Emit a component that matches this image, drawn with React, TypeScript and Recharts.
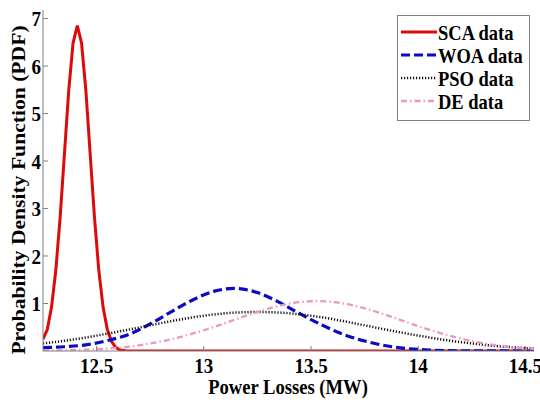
import React from "react";
import { LineChart, Line, XAxis, YAxis, Legend } from "recharts";

// ---- data ----
const scaX = [12.25, 12.27, 12.29, 12.31, 12.33, 12.35, 12.37, 12.39, 12.41, 12.43, 12.45, 12.47, 12.49, 12.51, 12.53, 12.55, 12.57, 12.59, 12.61, 12.64, 13.0, 13.5, 14.0, 14.54];
const scaY = [0.25, 0.45, 0.93, 1.71, 2.82, 4.15, 5.48, 6.48, 6.85, 6.48, 5.48, 4.15, 2.82, 1.71, 0.93, 0.45, 0.2, 0.07, 0.02, 0, 0, 0, 0, 0];

const woaX = [12.25, 12.35, 12.45, 12.55, 12.65, 12.75, 12.85, 12.95, 13.05, 13.14, 13.25, 13.35, 13.45, 13.55, 13.65, 13.75, 13.85, 13.95, 14.05, 14.2, 14.54];
const woaY = [0.07, 0.09, 0.13, 0.22, 0.35, 0.57, 0.83, 1.08, 1.26, 1.32, 1.23, 1.03, 0.78, 0.55, 0.35, 0.21, 0.11, 0.05, 0.02, 0.005, 0];

const psoX = [12.25, 12.35, 12.45, 12.55, 12.65, 12.75, 12.85, 12.95, 13.05, 13.15, 13.25, 13.35, 13.45, 13.55, 13.65, 13.75, 13.85, 13.95, 14.05, 14.15, 14.25, 14.35, 14.45, 14.54];
const psoY = [0.16, 0.215, 0.285, 0.365, 0.45, 0.54, 0.63, 0.71, 0.77, 0.81, 0.82, 0.81, 0.77, 0.71, 0.63, 0.54, 0.45, 0.365, 0.285, 0.215, 0.16, 0.11, 0.076, 0.05];

const deX = [12.25, 12.35, 12.45, 12.55, 12.65, 12.75, 12.85, 12.95, 13.05, 13.15, 13.25, 13.35, 13.45, 13.53, 13.65, 13.75, 13.85, 13.95, 14.05, 14.15, 14.25, 14.35, 14.45, 14.54];
const deY = [0.01, 0.015, 0.03, 0.05, 0.09, 0.16, 0.25, 0.37, 0.51, 0.67, 0.82, 0.95, 1.03, 1.05, 1.0, 0.9, 0.76, 0.6, 0.45, 0.32, 0.21, 0.13, 0.075, 0.045];

const xTicks = [12.5, 13, 13.5, 14, 14.5];
const yTicks = [1, 2, 3, 4, 5, 6, 7];
const xDomain = [12.25, 14.54];
const yDomain = [0, 7.18];

const seriesNames = ["SCA data", "WOA data", "PSO data", "DE data"];
const xTitle = "Power Losses (MW)";
const yTitle = "Probability Density Function (PDF)";

// ---- styles ----
const FONT = "Liberation Serif, DejaVu Serif, serif";
const AXIS = "#808080";
const SY = 1.15; // vertical stretch of the reference's text
const textCss = { fontFamily: FONT, fontWeight: 700 };

const toPoints = (xs: number[], ys: number[]) => xs.map((x, i) => ({ x, y: ys[i] }));

const series = [
  { name: seriesNames[0], data: toPoints(scaX, scaY), color: "#dc0a0a", width: 3, dash: undefined as string | undefined, type: "linear" as const },
  { name: seriesNames[1], data: toPoints(woaX, woaY), color: "#0a0ac8", width: 3.2, dash: "9 4", type: "monotone" as const },
  { name: seriesNames[2], data: toPoints(psoX, psoY), color: "#111111", width: 2.5, dash: "1.2 1.8", type: "monotone" as const },
  { name: seriesNames[3], data: toPoints(deX, deY), color: "#ec98c2", width: 2.3, dash: "6 3 1.5 3", type: "monotone" as const },
];

const XTick = (props: any) => {
  const { x, y, payload } = props;
  return (
    <g transform={`translate(${x},${y}) scale(1,${SY})`}>
      <text x={0} y={0} dy="0.71em" textAnchor="middle" style={textCss} fontSize={19} fill="#000">
        {payload.value}
      </text>
    </g>
  );
};

const YTick = (props: any) => {
  const { x, y, payload } = props;
  return (
    <g transform={`translate(${x},${y}) scale(1,${SY})`}>
      <text x={0} y={0} dy="0.355em" textAnchor="end" style={textCss} fontSize={19} fill="#000">
        {payload.value}
      </text>
    </g>
  );
};

const LegendBox = () => (
  <svg width={134} height={107} style={{ display: "block" }}>
    <rect x={0.5} y={0.5} width={132} height={105} fill="#fff" stroke={AXIS} strokeWidth={1} />
    {series.map((s, i) => {
      const cy = 17 + i * 23;
      return (
        <g key={s.name}>
          <line x1={4} x2={40} y1={cy} y2={cy} stroke={s.color} strokeWidth={s.width} strokeDasharray={s.dash} />
          <g transform={`translate(41,${cy}) scale(1,${SY})`}>
            <text x={0} y={0} dy="0.355em" style={textCss} fontSize={18.5} fill="#000">
              {s.name}
            </text>
          </g>
        </g>
      );
    })}
  </svg>
);

export default function App() {
  return (
    <div style={{ position: "absolute", left: 0, top: 0, width: 540, height: 400, background: "#fff", fontFamily: FONT }}>
      <LineChart width={540} height={400} margin={{ top: 10, right: 6, bottom: 0, left: 0 }}>
        <XAxis
          xAxisId="b"
          dataKey="x"
          type="number"
          domain={xDomain}
          ticks={xTicks}
          allowDataOverflow
          height={49}
          stroke={AXIS}
          tickSize={-5}
          tickMargin={11}
          tick={<XTick />}
          label={{
            content: () => (
              <g transform={`translate(288,394) scale(1,${SY})`}>
                <text x={0} y={0} textAnchor="middle" style={textCss} fontSize={18.6} fill="#000">
                  {xTitle}
                </text>
              </g>
            ),
          }}
        />
        <XAxis
          xAxisId="t"
          orientation="top"
          dataKey="x"
          type="number"
          domain={xDomain}
          ticks={xTicks}
          allowDataOverflow
          height={0}
          stroke={AXIS}
          tickSize={-5}
          tick={false}
        />
        <YAxis
          yAxisId="l"
          type="number"
          domain={yDomain}
          ticks={yTicks}
          allowDataOverflow
          width={43}
          stroke={AXIS}
          tickSize={-5}
          tickMargin={7}
          tick={<YTick />}
          label={{
            content: () => (
              <g transform={`translate(25,190) scale(1,${SY}) rotate(-90)`}>
                <text x={0} y={0} textAnchor="middle" style={textCss} fontSize={18.8} fill="#000">
                  {yTitle}
                </text>
              </g>
            ),
          }}
        />
        <YAxis
          yAxisId="r"
          orientation="right"
          type="number"
          domain={yDomain}
          ticks={yTicks}
          allowDataOverflow
          width={0}
          stroke={AXIS}
          tickSize={-5}
          tick={false}
        />
        {series.map((s) => (
          <Line
            key={s.name}
            xAxisId="b"
            yAxisId="l"
            data={s.data}
            dataKey="y"
            name={s.name}
            type={s.type}
            stroke={s.color}
            strokeWidth={s.width}
            strokeDasharray={s.dash}
            dot={false}
            activeDot={false}
            isAnimationActive={false}
          />
        ))}
        <Legend
          layout="vertical"
          align="center"
          verticalAlign="middle"
          wrapperStyle={{ left: 397, top: 15, width: 134, height: 107 }}
          content={() => <LegendBox />}
        />
      </LineChart>
    </div>
  );
}
